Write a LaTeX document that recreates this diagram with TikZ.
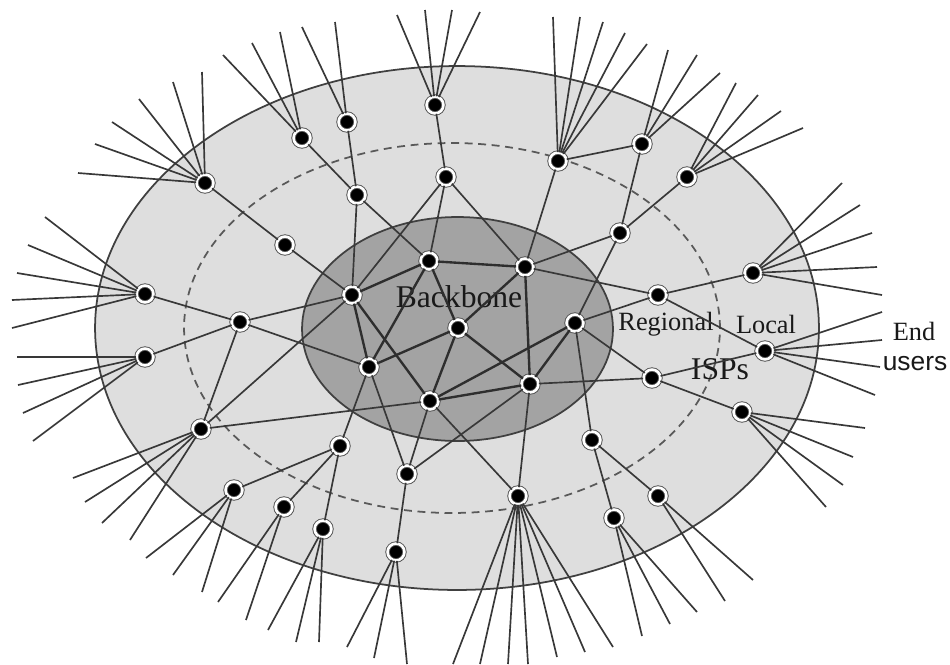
\documentclass[tikz,border=0pt]{standalone}
\usepackage{fontspec}
\setmainfont{Liberation Serif}
\newfontfamily\userfont{Liberation Sans}
\usepackage{tikz}
\tikzset{
  outerzone/.style={fill=black!13, draw=black!75, line width=1pt},
  regionring/.style={draw=black!65, line width=1pt, dash pattern=on 4.5pt off 3.2pt},
  corezone/.style={fill=black!36, draw=black!75, line width=1pt},
  router/.style={circle, inner sep=0pt, minimum size=9.6pt, fill=black,
    draw=black!70, line width=0.5pt, double=white, double distance=1.5pt},
  link/.style={draw=black!78, line width=0.95pt},
  trunk/.style={draw=black!82, line width=1.35pt},
  tail/.style={draw=black!78, line width=0.95pt},
  zonelabel/.style={font=\fontsize{15}{17}\selectfont, text=black!90, inner sep=0pt},
}

\begin{document}
\begin{tikzpicture}[x=0.02cm, y=-0.02cm]
\useasboundingbox (0,0) rectangle (950,664);
% zones
\draw[outerzone] (457,328) ellipse [x radius=7.24cm, y radius=5.24cm];
\draw[regionring] (452,328) ellipse [x radius=5.36cm, y radius=3.70cm];
\draw[corezone] (457.5,329) ellipse [x radius=3.11cm, y radius=2.24cm];
% labels
\node[zonelabel, font=\fontsize{18}{20}\selectfont] (bb) at (459,297) {Backbone};
\node[zonelabel] (reg) at (666,324) {Regional};
\node[zonelabel] (loc) at (766,324) {Local};
\node[zonelabel, font=\fontsize{18}{20}\selectfont] (isp) at (720,369) {ISPs};
\node[zonelabel] (end) at (914,331) {End};
\node[zonelabel, font=\userfont\fontsize{15}{17}\selectfont] (usr) at (915,364) {users};
% backbone routers
\node[router] (b1) at (352,295) {};
\node[router] (b2) at (429,261) {};
\node[router] (b3) at (525,267) {};
\node[router] (b4) at (458,328) {};
\node[router] (b5) at (575,323) {};
\node[router] (b6) at (369,367) {};
\node[router] (b7) at (530,384) {};
\node[router] (b8) at (430,401) {};
% regional routers
\node[router] (r1) at (285,245) {};
\node[router] (r2) at (357,195) {};
\node[router] (r3) at (446,177) {};
\node[router] (r4) at (620,233) {};
\node[router] (r5) at (658,295) {};
\node[router] (r6) at (652,378) {};
\node[router] (r7) at (592,440) {};
\node[router] (r8) at (407,474) {};
\node[router] (r9) at (340,446) {};
\node[router] (r10) at (240,322) {};
% local routers
\node[router] (l1) at (205,183) {};
\node[router] (l2) at (302,138) {};
\node[router] (l3) at (347,122) {};
\node[router] (l4) at (435,105) {};
\node[router] (l5) at (558,161) {};
\node[router] (l6) at (642,144) {};
\node[router] (l7) at (687,177) {};
\node[router] (l8) at (753,273) {};
\node[router] (l9) at (765,351) {};
\node[router] (l10) at (742,412) {};
\node[router] (l11) at (658,496) {};
\node[router] (l12) at (614,518) {};
\node[router] (l13) at (518,496) {};
\node[router] (l14) at (396,552) {};
\node[router] (l15) at (323,529) {};
\node[router] (l16) at (284,507) {};
\node[router] (l17) at (234,490) {};
\node[router] (l18) at (201,429) {};
\node[router] (l19) at (145,357) {};
\node[router] (l20) at (145,294) {};
% backbone links
\foreach \a/\b in {b1/b2, b1/b6, b1/b8, b2/b3, b2/b4, b2/b6, b3/b4, b3/b7,
                   b4/b6, b4/b7, b4/b8, b5/b7, b5/b8, b7/b8}
  \draw[trunk] (\a) -- (\b);
% regional and local links
\foreach \a/\b in {l1/r1, r1/b1, l2/r2, l3/r2, r2/b1, r2/b2, l4/r3, r3/b1, r3/b2, r3/b3,
                   l5/l6, l5/b3, l6/r4, l7/r4, r4/b3, r4/b5, r5/b3, r5/b5, r5/l8, r5/l9,
                   r6/b5, r6/b7, r6/l9, r6/l10, r7/b5, r7/l11, r7/l12, l13/b7, l13/b8,
                   r8/l14, r8/b6, r8/b8, r8/b7, r9/l17, r9/l16, r9/l15, r9/b6,
                   r10/l20, r10/l19, r10/l18, r10/b1, r10/b6, l18/b1, l18/b8}
  \draw[link] (\a) -- (\b);
% end users
\foreach \n/\ends in {
    l1/{(78,173),(95,144),(112,122),(139,99),(173,82),(202,72)},
    l2/{(223,55),(252,43),(280,32)},
    l3/{(302,27),(335,22)},
    l4/{(397,15),(425,10),(452,10),(480,12)},
    l5/{(553,17),(580,17),(603,22),(625,33),(647,44)},
    l6/{(668,50),(697,55),(720,73)},
    l7/{(736,83),(758,95),(781,111),(803,128)},
    l8/{(842,183),(860,205),(872,233),(877,267),(882,295)},
    l9/{(882,312),(882,340),(880,367),(875,395)},
    l10/{(865,428),(853,457),(843,485),(826,507)},
    l11/{(753,580),(725,601)},
    l12/{(697,612),(670,624),(642,636)},
    l13/{(613,647),(585,652),(557,657),(528,664),(508,664),(480,664),(453,664)},
    l14/{(347,647),(374,658),(407,664)},
    l15/{(268,630),(296,642),(319,642)},
    l16/{(218,602),(246,620)},
    l17/{(146,558),(173,575),(202,592)},
    l18/{(73,478),(85,502),(102,523),(130,540)},
    l19/{(17,357),(18,385),(23,413),(33,441)},
    l20/{(45,217),(28,245),(17,273),(12,300),(12,328)}}
  \foreach \p [count=\i] in \ends
    \draw[tail] (\n) -- \p coordinate (\n-u\i);
\end{tikzpicture}
\end{document}
